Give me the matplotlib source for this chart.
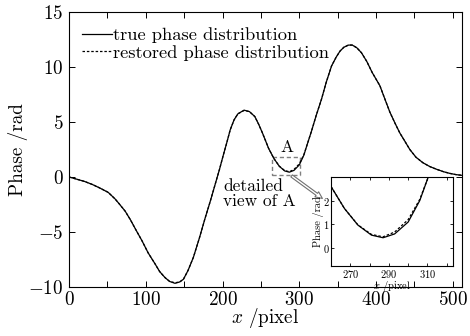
import numpy as np
import matplotlib
matplotlib.use("Agg")
import matplotlib.pyplot as plt
from matplotlib.patches import Rectangle
from matplotlib.ticker import MultipleLocator

# phase curves
x_pix = [0, 10, 20, 30, 40, 51, 60, 66, 73, 80, 87, 95, 103, 112, 118, 125,
         131, 138, 144, 149, 155, 162, 170, 177, 184, 190, 196, 201, 205, 210,
         215, 220, 228, 235, 242, 247, 252, 256, 260, 267, 274, 281, 287, 293,
         300, 306, 310, 316, 322, 329, 335, 342, 348, 353, 358, 364, 369, 375,
         381, 388, 395, 400, 405, 412, 418, 425, 431, 438, 444, 452, 461, 470,
         479, 488, 496, 504, 512]
true_phase = [0.0, -0.2, -0.4, -0.67, -1.0, -1.4, -2.0, -2.5, -3.1, -3.9, -4.8,
              -5.8, -6.9, -7.9, -8.6, -9.15, -9.5, -9.67, -9.55, -9.3, -8.5,
              -7.3, -5.5, -3.8, -2.2, -0.75, 0.7, 2.0, 3.0, 4.3, 5.2, 5.75,
              6.08, 5.95, 5.5, 4.8, 4.0, 3.3, 2.6, 1.67, 0.97, 0.55, 0.44, 0.6,
              1.1, 2.0, 2.9, 4.2, 5.6, 7.1, 8.6, 10.1, 10.9, 11.45, 11.8, 12.0,
              12.0, 11.75, 11.3, 10.5, 9.5, 8.9, 8.3, 7.0, 5.9, 4.85, 4.0, 3.2,
              2.5, 1.8, 1.3, 0.95, 0.7, 0.48, 0.33, 0.22, 0.15]
restored_phase = [0.0, -0.2, -0.4, -0.67, -1.0, -1.4, -2.0, -2.5, -3.1, -3.9,
                  -4.8, -5.8, -6.9, -7.9, -8.6, -9.15, -9.5, -9.62, -9.55,
                  -9.3, -8.5, -7.3, -5.5, -3.8, -2.2, -0.75, 0.7, 2.0, 3.0,
                  4.3, 5.2, 5.75, 6.05, 5.95, 5.5, 4.8, 4.0, 3.3, 2.6, 1.67,
                  0.98, 0.58, 0.48, 0.68, 1.2, 2.05, 2.9, 4.2, 5.6, 7.1, 8.6,
                  10.1, 10.9, 11.45, 11.8, 12.0, 12.0, 11.75, 11.3, 10.5, 9.5,
                  8.9, 8.3, 7.0, 5.9, 4.85, 4.0, 3.2, 2.5, 1.8, 1.3, 0.95, 0.7,
                  0.48, 0.33, 0.22, 0.15]

plt.rcParams.update({
    'font.family': ['cmr10', 'DejaVu Serif'],
    'mathtext.fontset': 'cm',
    'axes.formatter.use_mathtext': True,
    'axes.unicode_minus': True,
    'xtick.direction': 'in',
    'ytick.direction': 'in',
    'xtick.top': True,
    'ytick.right': True,
})

fig = plt.figure(figsize=(4.7, 3.36), dpi=100, facecolor='white')
ax = fig.add_axes([0.147, 0.146, 0.836, 0.818])

ax.plot(x_pix, true_phase, color='black', lw=0.9, label='true phase distribution')
ax.plot(x_pix, restored_phase, color='black', lw=0.9, ls=(0, (2, 1.5)),
        label='restored phase distribution')

ax.set_xlim(0, 512)
ax.set_ylim(-10, 15)
ax.xaxis.set_major_locator(MultipleLocator(100))
ax.xaxis.set_minor_locator(MultipleLocator(50))
ax.yaxis.set_major_locator(MultipleLocator(5))
ax.tick_params(which='major', length=4, width=0.7, labelsize=13.8)
ax.tick_params(axis='x', pad=3)
ax.tick_params(axis='y', pad=4)
ax.tick_params(which='minor', length=4, width=0.7)
for s in ax.spines.values():
    s.set_linewidth(0.8)
ax.set_xlabel('$x$ /pixel', fontsize=13.8, labelpad=-2)
ax.set_ylabel('Phase /rad', fontsize=13.8, labelpad=0)

ax.legend(loc='upper left', bbox_to_anchor=(0.033, 0.945), frameon=False,
          fontsize=13.3, handlelength=1.62, handletextpad=0.05,
          borderpad=0, borderaxespad=0, labelspacing=0.1)

# region A
ax.add_patch(Rectangle((265, 0.2), 36, 1.6, fill=False, ec='#808080',
                       lw=1.0, ls=(0, (3, 2))))
ax.text(284, 2.7, 'A', fontsize=12.5, ha='center', va='center')
ax.text(201, -1.5, 'detailed\nview of A', fontsize=12.5, ha='left', va='center',
        linespacing=0.95)
ax.annotate('', xy=(333, -2.1), xytext=(287, 0.25),
            arrowprops=dict(arrowstyle='simple,head_width=0.45,head_length=0.5,tail_width=0.18',
                            fc='white', ec='#707070', lw=0.8))

# inset
axin = fig.add_axes([0.704, 0.208, 0.259, 0.266])
axin.plot(x_pix, true_phase, color='black', lw=0.9)
axin.plot(x_pix, restored_phase, color='black', lw=0.9, ls=(0, (2, 1.5)))
axin.set_xlim(260, 323)
axin.set_ylim(-0.75, 3.0)
axin.set_xticks([270, 290, 310])
axin.xaxis.set_minor_locator(MultipleLocator(10))
axin.set_yticks([0, 1, 2])
axin.tick_params(which='both', length=2.5, width=0.6, labelsize=7.5, pad=1)
for s in axin.spines.values():
    s.set_linewidth(0.8)
axin.set_xlabel('$x$ /pixel', fontsize=7.5, labelpad=-0.5)
axin.set_ylabel('Phase /rad', fontsize=7.5, labelpad=-1)

fig.savefig('out.png', dpi=100, facecolor='white')
